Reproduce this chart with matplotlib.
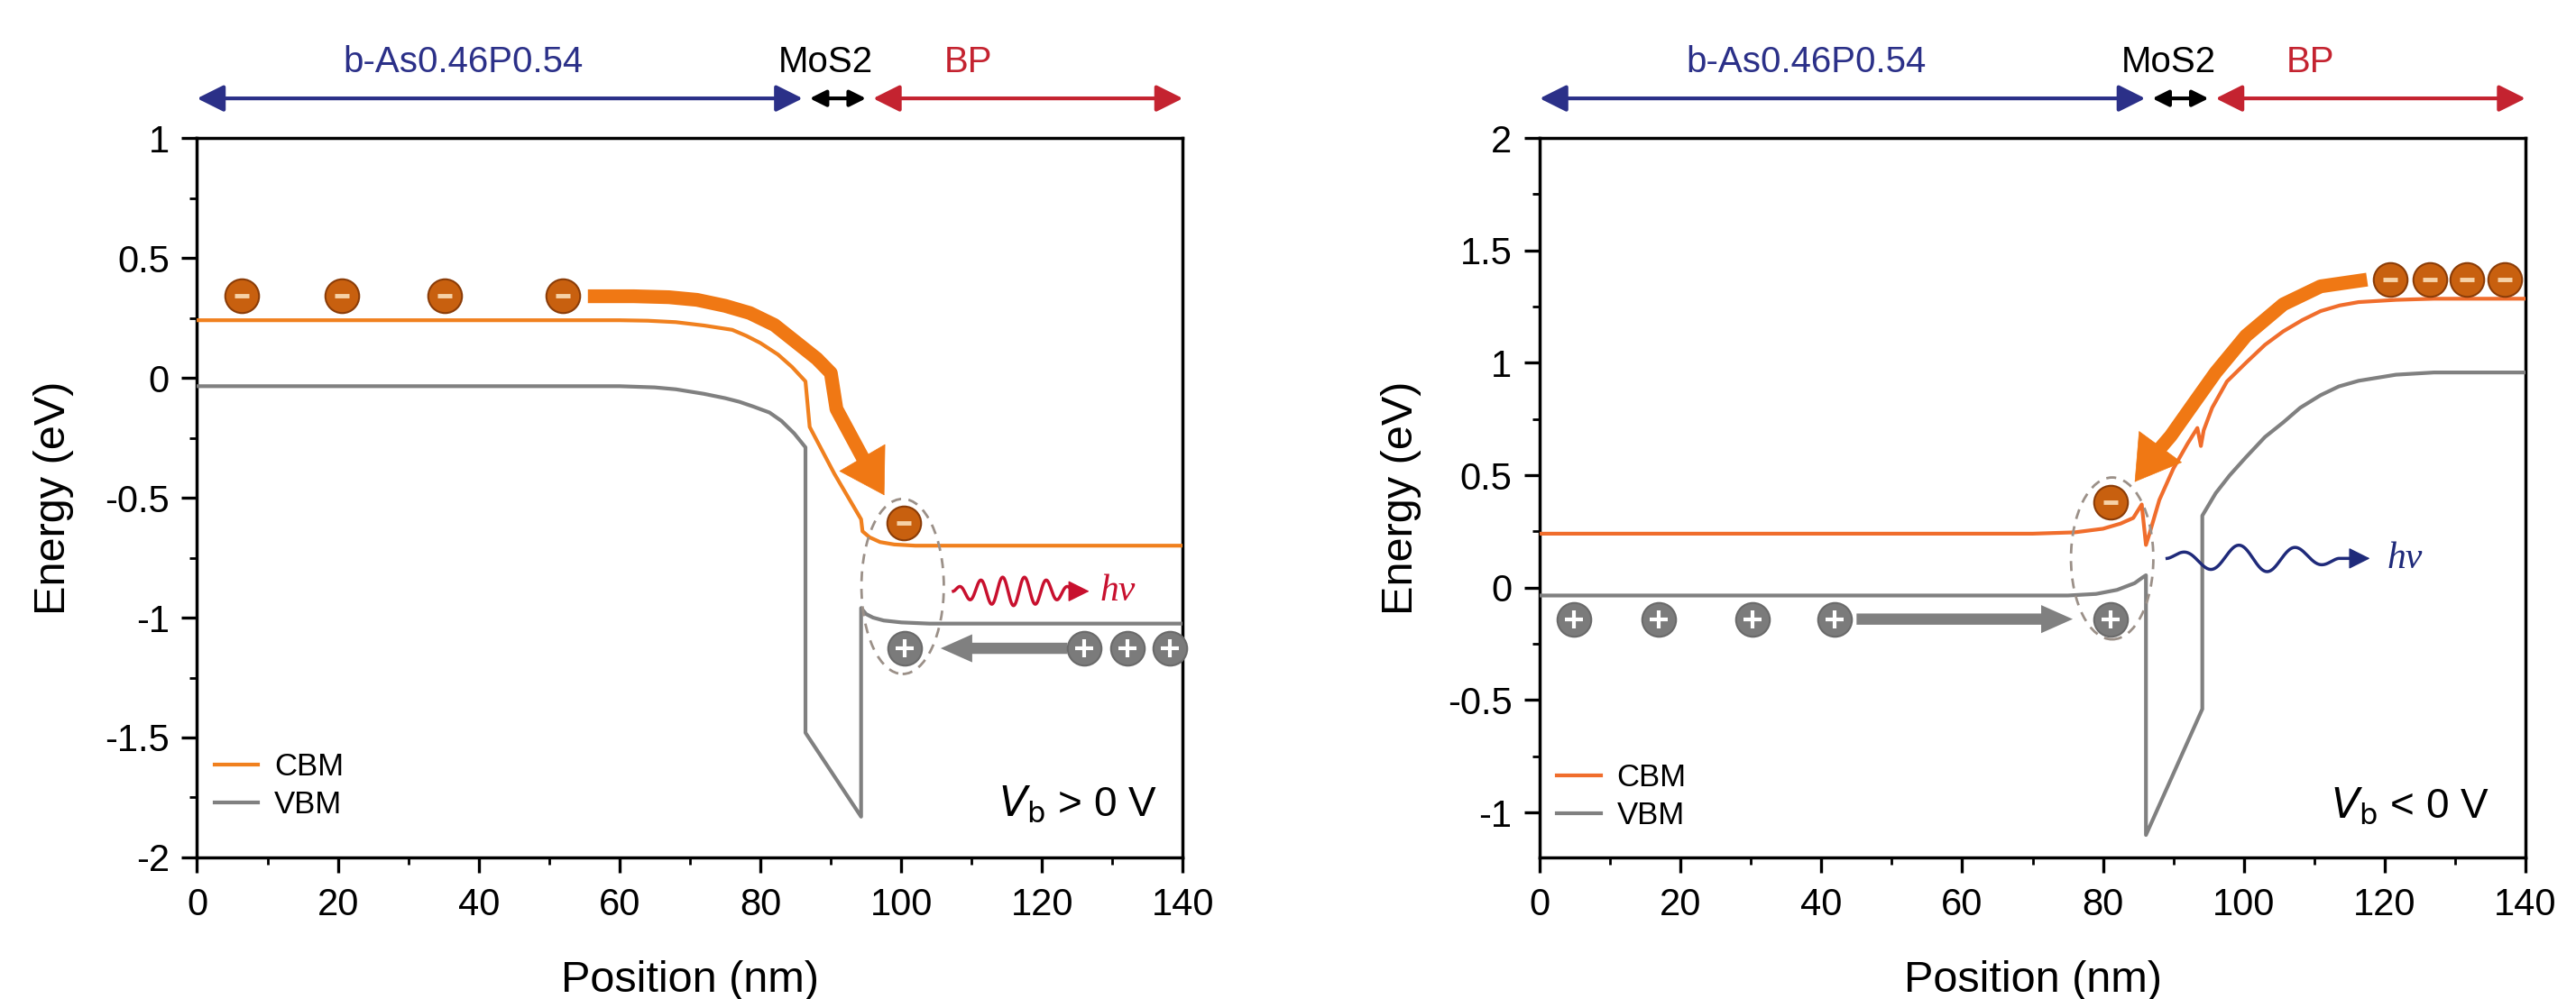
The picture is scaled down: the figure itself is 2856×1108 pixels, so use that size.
import numpy as np
import matplotlib
matplotlib.use("Agg")
import matplotlib.pyplot as plt
from matplotlib.patches import Ellipse
from matplotlib import transforms

plt.rcParams['font.family'] = ['Liberation Sans', 'DejaVu Sans']
plt.rcParams['axes.unicode_minus'] = False

# ---------------- data ----------------
# Panel a: Vb > 0 V
pos_cbm_a = [0, 60, 64, 68, 72, 76, 78, 80, 82.5, 84.5, 86.4, 87.0, 90.5, 94.3, 94.5, 95.5, 97, 99, 102, 140]
cbm_a = [0.24, 0.24, 0.238, 0.232, 0.218, 0.20, 0.175, 0.145, 0.097, 0.045, -0.015, -0.205, -0.40, -0.59,
         -0.64, -0.665, -0.685, -0.695, -0.70, -0.70]
pos_vbm_a = [0, 60, 65, 68, 72, 75, 77, 79, 81.3, 83, 84.8, 86.4, 86.4, 94.3, 94.3, 95, 96, 97.5, 100, 104, 140]
vbm_a = [-0.035, -0.035, -0.04, -0.048, -0.067, -0.085, -0.10, -0.12, -0.145, -0.18, -0.232, -0.29, -1.48,
         -1.83, -0.96, -0.985, -1.0, -1.012, -1.02, -1.025, -1.025]

# Panel b: Vb < 0 V
pos_cbm_b = [0, 70, 76, 80, 82.5, 84.3, 85.5, 86.1, 86.6, 88, 90, 92, 93.4, 93.9, 94.3, 95.5, 97.6, 100.3,
             103, 105.6, 108.3, 110.9, 113.6, 116.3, 121.6, 127, 140]
cbm_b = [0.24, 0.24, 0.246, 0.262, 0.285, 0.31, 0.37, 0.19, 0.24, 0.39, 0.53, 0.64, 0.71, 0.63, 0.70, 0.80,
         0.917, 1.0, 1.08, 1.14, 1.19, 1.23, 1.255, 1.27, 1.28, 1.285, 1.285]
pos_vbm_b = [0, 75, 79, 82, 84.5, 85.6, 86.1, 86.1, 94.1, 94.1, 96, 98, 100.3, 103, 105.6, 108, 110.9, 113.5,
             116.3, 121.6, 127, 140]
vbm_b = [-0.035, -0.035, -0.028, -0.01, 0.02, 0.045, 0.055, -1.10, -0.54, 0.32, 0.42, 0.50, 0.58, 0.67, 0.735,
         0.80, 0.856, 0.895, 0.92, 0.947, 0.957, 0.957]

# carriers
elec_x_a = [6.3, 20.6, 35.1, 51.9, 100.3]
elec_y_a = [0.342, 0.342, 0.342, 0.342, -0.605]
hole_x_a = [100.5, 126.0, 132.1, 138.2]
hole_y_a = [-1.128, -1.128, -1.128, -1.128]

elec_x_b = [120.8, 126.4, 131.7, 137.1, 81.1]
elec_y_b = [1.37, 1.37, 1.37, 1.37, 0.38]
hole_x_b = [4.9, 16.9, 30.2, 41.9, 81.1]
hole_y_b = [-0.14, -0.14, -0.14, -0.14, -0.14]

region_names = ['b-As0.46P0.54', 'MoS2', 'BP']
region_spans = [(0, 86), (87, 95), (96, 140)]
region_label_x = [37.8, 89.3, 109.5]

x_ticks = [0, 20, 40, 60, 80, 100, 120, 140]
yticks_a = [-2, -1.5, -1, -0.5, 0, 0.5, 1]
yticks_b = [-1, -0.5, 0, 0.5, 1, 1.5, 2]

# ---------------- styles ----------------
ORANGE_A = '#f0801e'
ORANGE_B = '#f06d2c'
GREY = '#808080'
NAVY = '#2b3088'
RED = '#c42330'
ARROW_OR = '#f07814'
E_FACE = '#c8600f'
E_EDGE = '#8a3c08'

TICK_FS = 30
LABEL_FS = 35

fig = plt.figure(figsize=(28.56, 11.08), dpi=100)
ax_a = fig.add_axes([0.0765, 0.1417, 0.3827, 0.7202])
ax_b = fig.add_axes([0.5977, 0.1417, 0.3827, 0.7202])


def style_axes(ax, ylim, yticks):
    ax.set_xlim(0, 140)
    ax.set_ylim(*ylim)
    ax.set_xticks(x_ticks)
    ax.set_xticks(np.arange(10, 140, 20), minor=True)
    ax.set_yticks(yticks)
    ax.set_yticks(np.array(yticks[:-1]) + 0.25, minor=True)
    ax.set_yticklabels([('%g' % t) for t in yticks])
    ax.tick_params(which='major', direction='out', length=12, width=2.4, labelsize=TICK_FS,
                   top=False, right=False)
    ax.tick_params(axis='x', which='major', pad=12)
    ax.tick_params(axis='y', which='major', pad=10)
    ax.tick_params(which='minor', direction='out', length=6, width=2.0, top=False, right=False)
    for s in ax.spines.values():
        s.set_linewidth(2.5)
    ax.set_xlabel('Position (nm)', fontsize=LABEL_FS)
    ax.set_ylabel('Energy (eV)', fontsize=LABEL_FS)
    ax.xaxis.set_label_coords(0.5, -0.143)


def draw_regions(ax):
    tr = transforms.blended_transform_factory(ax.transData, ax.transAxes)
    cols = [NAVY, 'black', RED]
    scales = [30, 18, 30]
    for name, (x0, x1), xl, c, ms in zip(region_names, region_spans, region_label_x, cols, scales):
        ax.annotate('', xy=(x1, 1.055), xytext=(x0, 1.055), xycoords=tr, textcoords=tr,
                    arrowprops=dict(arrowstyle='<|-|>,head_length=0.6,head_width=0.3', mutation_scale=ms,
                                    lw=3, color=c, shrinkA=0, shrinkB=0), annotation_clip=False)
        ax.text(xl, 1.105, name, transform=tr, ha='center', va='center', color=c, fontsize=29)


def electrons(ax, xs, ys):
    ax.plot(xs, ys, 'o', ms=27, mfc=E_FACE, mec=E_EDGE, mew=1.5, zorder=6, clip_on=False)
    ax.plot(xs, ys, '_', ms=12, mew=3.5, color='#f6d2a8', zorder=7, clip_on=False)


def holes(ax, xs, ys):
    ax.plot(xs, ys, 'o', ms=27, mfc='#7b7b7b', mec='#6a6a6a', mew=1.5, zorder=6, clip_on=False)
    ax.plot(xs, ys, '+', ms=15, mew=3, color='white', zorder=7, clip_on=False)


def curved_arrow(ax, px, py, tip, color, lw=11):
    ax.plot(px, py, color=color, lw=lw, solid_capstyle='butt', zorder=4)
    ax.annotate('', xy=tip, xytext=(px[-1], py[-1]),
                arrowprops=dict(arrowstyle='-|>,head_length=0.9,head_width=0.55', mutation_scale=38,
                                lw=0.5, color=color, shrinkA=0, shrinkB=0), zorder=5)


def wave(ax, x0, x1, xtip, y, amp, ncyc, color, lw=2.5):
    t = np.linspace(0, 1, 400)
    env = np.sin(np.pi * t) ** 0.6
    xs = x0 + (x1 - x0) * t
    ys = y + amp * env * np.sin(2 * np.pi * ncyc * t)
    ax.plot(np.r_[xs, xtip - 1.0], np.r_[ys, y], color=color, lw=lw, zorder=4)
    ax.annotate('', xy=(xtip, y), xytext=(xtip - 1.5, y),
                arrowprops=dict(arrowstyle='-|>,head_length=0.6,head_width=0.3', mutation_scale=25,
                                lw=1, color=color, shrinkA=0, shrinkB=0))


def hole_arrow(ax, x_from, x_to, y):
    ax.annotate('', xy=(x_to, y), xytext=(x_from, y),
                arrowprops=dict(arrowstyle='simple,head_length=0.9,head_width=0.8,tail_width=0.32',
                                mutation_scale=28, color=GREY, lw=0, shrinkA=0, shrinkB=0), zorder=5)


# ---------------- panel a ----------------
ax = ax_a
style_axes(ax, (-2, 1), yticks_a)
ax.yaxis.set_label_coords(-0.125, 0.5)
ax.plot(pos_cbm_a, cbm_a, color=ORANGE_A, lw=3, label='CBM', zorder=3)
ax.plot(pos_vbm_a, vbm_a, color=GREY, lw=3, label='VBM', zorder=3)
draw_regions(ax)
curved_arrow(ax, [55.5, 62, 67, 71, 75, 78.5, 82, 85, 88, 90, 90.8, 93, 95.2],
             [0.34, 0.34, 0.336, 0.325, 0.30, 0.27, 0.22, 0.15, 0.08, 0.02, -0.13, -0.25, -0.37],
             (97.6, -0.49), ARROW_OR)
ax.add_patch(Ellipse((100.2, -0.87), 11.7, 0.73, fill=False, ls=(0, (4, 3)), lw=2, ec='#9b9088', zorder=5))
electrons(ax, elec_x_a, elec_y_a)
hole_arrow(ax, 123.6, 105.6, -1.128)
holes(ax, hole_x_a, hole_y_a)
wave(ax, 107.4, 124.5, 126.7, -0.89, 0.06, 5.5, '#c8102e')
ax.text(128.2, -0.89, 'hν', fontsize=30, color='#c8102e', family='Liberation Serif', style='italic',
        ha='left', va='center')
ax.text(136.3, -1.78, r'$V_{\rm b}$ > 0 V', fontsize=33, ha='right', va='center')
ax.legend(loc='lower left', bbox_to_anchor=(0.005, 0.035), frameon=False, fontsize=25, handlelength=1.4,
          handletextpad=0.5, labelspacing=0.25, borderaxespad=0)

# ---------------- panel b ----------------
ax = ax_b
style_axes(ax, (-1.2, 2), yticks_b)
ax.yaxis.set_label_coords(-0.12, 0.5)
ax.plot(pos_cbm_b, cbm_b, color=ORANGE_B, lw=3, label='CBM', zorder=3)
ax.plot(pos_vbm_b, vbm_b, color=GREY, lw=3, label='VBM', zorder=3)
draw_regions(ax)
curved_arrow(ax, [117.5, 110.9, 105.6, 100.3, 96.0, 92.8, 89.6, 87.3],
             [1.37, 1.34, 1.26, 1.12, 0.957, 0.816, 0.674, 0.59],
             (84.5, 0.47), ARROW_OR)
ax.add_patch(Ellipse((81.3, 0.13), 11.7, 0.72, fill=False, ls=(0, (4, 3)), lw=2, ec='#9b9088', zorder=5))
electrons(ax, elec_x_b, elec_y_b)
hole_arrow(ax, 45.0, 75.7, -0.14)
holes(ax, hole_x_b, hole_y_b)
wave(ax, 89.1, 113.5, 117.9, 0.13, 0.06, 3.0, '#1f2a7a')
ax.text(120.3, 0.13, 'hν', fontsize=30, color='#1f2a7a', family='Liberation Serif', style='italic',
        ha='left', va='center')
ax.text(134.9, -0.97, r'$V_{\rm b}$ < 0 V', fontsize=33, ha='right', va='center')
ax.legend(loc='lower left', bbox_to_anchor=(0.005, 0.02), frameon=False, fontsize=25, handlelength=1.4,
          handletextpad=0.5, labelspacing=0.25, borderaxespad=0)

fig.savefig('out.png', dpi=100)
